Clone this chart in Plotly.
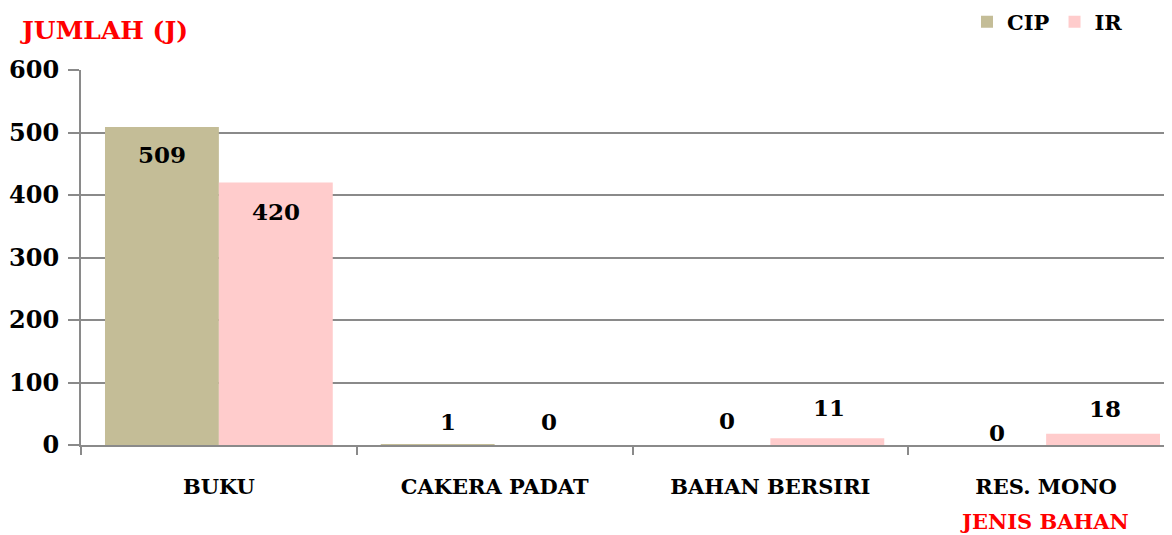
import plotly.graph_objects as go

categories = ["BUKU", "CAKERA PADAT", "BAHAN BERSIRI", "RES. MONO"]
cip_values = [509, 1, 0, 0]
ir_values = [420, 0, 11, 18]
series_names = ["CIP", "IR"]
y_ticks = [0, 100, 200, 300, 400, 500, 600]

colors = {"CIP": "#C4BD97", "IR": "#FFCCCC"}
FONT = "DejaVu Serif"
GRID = "#8A8A8A"

# label pixel offsets (dx, dy) for each bar label, per series
cip_offsets = [(0, -28), (10, 23), (14, 25), (8, 13)]
ir_offsets = [(0, -29), (-3, 24), (2, 31), (2, 25)]

fig = go.Figure()
fig.add_trace(go.Bar(x=categories, y=cip_values, name=series_names[0],
                     marker=dict(color=colors["CIP"], line=dict(width=0)),
                     offsetgroup="cip"))
fig.add_trace(go.Bar(x=categories, y=ir_values, name=series_names[1],
                     marker=dict(color=colors["IR"], line=dict(width=0)),
                     offsetgroup="ir"))

bar_w = (1 - 0.174) / 2
annotations = []
for i, cat in enumerate(categories):
    for vals, offs, side in ((cip_values, cip_offsets, -1), (ir_values, ir_offsets, 1)):
        dx, dy = offs[i]
        annotations.append(dict(
            x=i + side * bar_w / 2, y=vals[i], xref="x", yref="y",
            text=str(vals[i]), showarrow=False, xanchor="center", yanchor="middle",
            xshift=dx, yshift=dy,
            font=dict(family=FONT, size=23, color="black", weight="bold")))

annotations.append(dict(x=-0.0573, y=1.104, xref="paper", yref="paper",
                        text="JUMLAH (J)", showarrow=False, xanchor="left", yanchor="middle",
                        font=dict(family=FONT, size=25, color="#FF0000", weight="bold")))
annotations.append(dict(x=0.877, y=-0.203, xref="paper", yref="paper",
                        text="JENIS BAHAN", showarrow=False, xanchor="center", yanchor="middle",
                        font=dict(family=FONT, size=21, color="#FF0000", weight="bold")))

fig.update_layout(
    width=1172, height=535,
    margin=dict(l=73, r=0, t=62, b=98, autoexpand=False),
    paper_bgcolor="white", plot_bgcolor="white",
    barmode="group", bargap=0.174, bargroupgap=0,
    font=dict(family=FONT, size=21, color="black", weight="bold"),
    showlegend=True,
    legend=dict(orientation="h", xref="container", yref="container",
                x=1120 / 1172, xanchor="right", y=1 - 14 / 535, yanchor="middle",
                font=dict(family=FONT, size=21, color="black", weight="bold"),
                itemwidth=30, tracegroupgap=0, bgcolor="rgba(0,0,0,0)"),
    annotations=annotations,
)
fig.update_xaxes(type="category", range=[-0.5, 3.4855], showline=True, linecolor=GRID,
                 linewidth=2, ticks="outside", ticklen=8, tickcolor=GRID, tickwidth=1.5,
                 tickson="boundaries", showgrid=False, ticklabelstandoff=22, automargin=False,
                 tickfont=dict(family=FONT, size=21, color="black", weight="bold"))
fig.update_yaxes(range=[0, 600], tickvals=y_ticks, showline=True, linecolor=GRID,
                 linewidth=2, ticks="outside", ticklen=11, tickcolor=GRID, tickwidth=1.5,
                 showgrid=True, gridcolor=GRID, gridwidth=1.5, zeroline=False,
                 ticklabelstandoff=4, automargin=False,
                 tickfont=dict(family=FONT, size=24, color="black", weight="bold"))

fig.write_html("out.html")
